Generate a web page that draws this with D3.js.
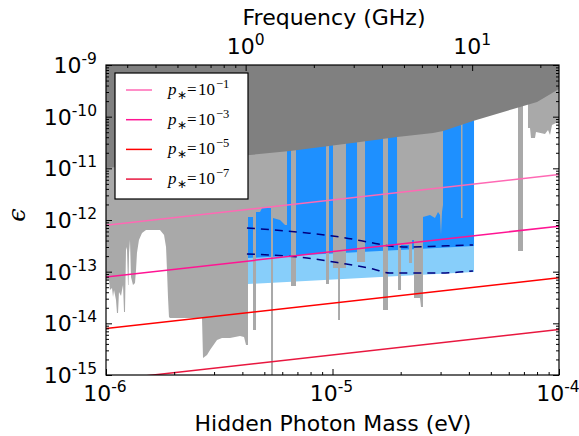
<!DOCTYPE html>
<html>
<head>
<meta charset="utf-8">
<script src="https://cdn.jsdelivr.net/npm/d3@7"></script>
<style>
  body { margin: 0; background: #fff; }
  text { font-family: "DejaVu Sans", sans-serif; fill: #000; }
</style>
</head>
<body>
<svg id="chart" width="579" height="436"></svg>
<script>
// ---- data (mass in eV, epsilon dimensionless) ----
const EV_TO_GHZ = 241798.9;

// upper dark region boundary
const boundMass = [1e-6, 4.32e-6, 6.49e-6, 1.322e-5, 1.927e-5, 2.78e-5, 3.08e-5, 4.17e-5, 6.73e-5, 8.0e-5, 1e-4];
const boundEps  = [1.02e-11, 1.81e-11, 2.17e-11, 3.23e-11, 4.04e-11, 4.83e-11, 5.28e-11, 8.24e-11, 1.54e-10, 1.92e-10, 3.43e-10];

// lower edge of existing exclusion (1e-9 = nothing excluded)
const limitMass = [
  1.000e-6, 1.031e-6, 1.041e-6, 1.063e-6, 1.074e-6, 1.085e-6, 1.107e-6, 1.118e-6, 1.130e-6, 1.141e-6,
  1.165e-6, 1.177e-6, 1.189e-6, 1.201e-6, 1.213e-6, 1.226e-6, 1.238e-6, 1.251e-6, 1.257e-6, 1.264e-6,
  1.276e-6, 1.289e-6, 1.316e-6, 1.343e-6, 1.357e-6, 1.370e-6, 1.398e-6, 1.442e-6, 1.502e-6, 1.731e-6,
  1.804e-6, 1.841e-6, 1.859e-6, 1.878e-6, 1.897e-6, 1.917e-6, 2.654e-6, 2.681e-6, 2.792e-6, 2.879e-6,
  3.091e-6, 3.252e-6, 3.528e-6, 3.905e-6, 4.068e-6, 4.151e-6, 4.236e-6,
  4.236e-6, 4.457e-6, 4.457e-6, 4.595e-6, 4.595e-6, 4.786e-6, 4.884e-6, 5.298e-6, 5.352e-6, 5.352e-6,
  5.462e-6, 5.462e-6, 5.865e-6, 6.171e-6, 6.297e-6, 6.297e-6, 6.558e-6, 6.558e-6, 6.900e-6, 6.900e-6,
  9.362e-6, 9.362e-6, 9.650e-6, 9.650e-6, 1.005e-5, 1.005e-5, 1.058e-5, 1.058e-5, 1.079e-5, 1.079e-5, 1.147e-5, 1.147e-5,
  1.283e-5, 1.283e-5, 1.392e-5, 1.392e-5, 1.671e-5, 1.671e-5, 1.758e-5, 1.758e-5,
  1.927e-5, 1.927e-5, 1.947e-5, 1.947e-5, 2.007e-5, 2.007e-5, 2.176e-5, 2.176e-5,
  2.244e-5, 2.244e-5, 2.290e-5, 2.290e-5, 2.434e-5, 2.459e-5, 2.509e-5, 2.509e-5,
  2.695e-5, 2.835e-5, 2.923e-5, 2.983e-5, 3.013e-5, 3.044e-5, 3.075e-5, 3.075e-5,
  3.693e-5, 3.693e-5, 3.750e-5, 3.750e-5,
  6.592e-5, 6.592e-5, 6.935e-5, 6.935e-5, 7.296e-5, 7.296e-5, 7.447e-5, 7.522e-5,
  7.834e-5, 7.914e-5, 8.674e-5, 8.943e-5, 9.127e-5, 9.314e-5, 9.700e-5, 1.000e-4
];
const limitEps = [
  6.90e-14, 6.90e-14, 4.42e-14, 4.83e-14, 3.24e-14, 4.42e-14, 2.83e-14, 1.59e-14, 1.59e-14, 4.04e-14,
  3.38e-14, 4.42e-14, 5.52e-14, 1.66e-14, 1.66e-14, 3.00e-13, 2.63e-13, 5.52e-14, 5.52e-14, 2.30e-13,
  4.10e-13, 7.89e-14, 5.52e-14, 6.04e-14, 1.08e-13, 2.30e-13, 4.10e-13, 5.61e-13, 6.41e-13, 6.41e-13,
  5.13e-13, 3.00e-13, 1.08e-13, 3.24e-14, 1.33e-14, 1.27e-14, 1.27e-14, 2.13e-15, 2.44e-15, 3.05e-15,
  4.76e-15, 5.21e-15, 5.21e-15, 5.69e-15, 5.44e-15, 3.81e-15, 3.81e-15,
  1.14e-12, 1.14e-12, 7.43e-15, 7.43e-15, 1.43e-12, 1.43e-12, 1.71e-12, 1.71e-12, 1.71e-12, 1e-15,
  1e-15, 1.09e-12, 1.00e-12, 8.01e-13, 8.01e-13, 1e-9, 1e-9, 5.28e-14, 5.28e-14, 1e-9,
  1e-9, 5.78e-14, 5.78e-14, 1e-9, 1e-9, 1.18e-13, 1.18e-13, 1.16e-14, 1.16e-14, 1.18e-13, 1.18e-13, 1e-9,
  1e-9, 1.54e-13, 1.54e-13, 1e-9, 1e-9, 1.81e-14, 1.81e-14, 1e-9,
  1e-9, 3.28e-13, 3.28e-13, 4.42e-14, 4.42e-14, 3.28e-13, 3.28e-13, 1.47e-13,
  1.47e-13, 4.10e-13, 4.10e-13, 3.09e-14, 3.09e-14, 2.07e-14, 2.07e-14, 1.14e-12,
  1.25e-12, 1.09e-12, 1.43e-12, 1.25e-12, 5.13e-13, 1.43e-12, 1.95e-12, 1e-9,
  1e-9, 1.09e-12, 1.09e-12, 1e-9,
  1e-9, 2.51e-13, 2.51e-13, 1e-9, 1e-9, 6.04e-11, 6.04e-11, 3.87e-11,
  3.87e-11, 5.05e-11, 4.62e-11, 5.52e-11, 4.42e-11, 6.90e-11, 7.54e-11, 7.54e-11
];

// projected reach, 1-10 GHz
const bandMass    = [4.236e-6, 4.215e-5];
const bandDeepEps = [1.84e-13, 3.14e-13];
const bandWideEps = [5.78e-14, 9.86e-14];

const dashMass     = [4.19e-6, 7.72e-6, 1.08e-5, 1.51e-5, 1.79e-5, 2.13e-5, 2.99e-5, 4.17e-5];
const dashUpperEps = [7.00e-13, 5.61e-13, 4.69e-13, 3.59e-13, 3.14e-13, 3.00e-13, 3.14e-13, 3.28e-13];
const dashLowerEps = [2.20e-13, 1.84e-13, 1.47e-13, 1.13e-13, 9.42e-14, 9.42e-14, 9.42e-14, 1.03e-13];

// p* lines
const pStarExp    = ['\u22121', '\u22123', '\u22125', '\u22127'];
const pStarColors = ['#ff69b4', '#ff1493', '#ff0000', '#e8173f'];
const lineMass    = [1e-6, 1e-4];
const lineEpsLow  = [7.9e-13, 7.9e-14, 7.9e-15, 7.9e-16];
const lineEpsHigh = [7.6e-12, 7.6e-13, 7.6e-14, 7.6e-15];

// ticks
const massDecades = [-6, -5, -4];
const epsDecades  = [-15, -14, -13, -12, -11, -10, -9];
const freqDecades = [0, 1];

// ---- chart ----
const L = 106, R = 559, T = 65, B = 375;
const svg = d3.select('#chart');

const x  = d3.scaleLog().domain([1e-6, 1e-4]).range([L, R]);
const y  = d3.scaleLog().domain([1e-15, 1e-9]).range([B, T]);
const xf = d3.scaleLog().domain([1e-6 * EV_TO_GHZ, 1e-4 * EV_TO_GHZ]).range([L, R]);

svg.append('clipPath').attr('id', 'plot').append('rect')
  .attr('x', L).attr('y', T).attr('width', R - L).attr('height', B - T);

const g = svg.append('g').attr('clip-path', 'url(#plot)');
const yTop = y(1e-9);

// blue bands
const band = (eps) => d3.area()
  .x((d, i) => x(bandMass[i])).y0(yTop).y1((d, i) => y(eps[i]));
g.append('path').datum(bandMass).attr('d', band(bandWideEps)).attr('fill', '#87cefa');
g.append('path').datum(bandMass).attr('d', band(bandDeepEps)).attr('fill', '#1e90ff');

// existing limits
g.append('path').datum(limitMass)
  .attr('d', d3.area().x((d) => x(d)).y0(yTop).y1((d, i) => y(limitEps[i])))
  .attr('fill', '#a9a9a9');

g.append('path').datum(boundMass)
  .attr('d', d3.area().x((d) => x(d)).y0(yTop).y1((d, i) => y(boundEps[i])))
  .attr('fill', '#808080');

// dashed curves
[dashUpperEps, dashLowerEps].forEach(eps => {
  g.append('path').datum(dashMass)
    .attr('d', d3.line().x(d => x(d)).y((d, i) => y(eps[i])).curve(d3.curveMonotoneX))
    .attr('fill', 'none').attr('stroke', '#000080').attr('stroke-width', 1.5)
    .attr('stroke-dasharray', '8,6');
});

// p* lines
pStarColors.forEach((c, k) => {
  g.append('path').datum(lineMass)
    .attr('d', d3.line().x(d => x(d)).y((d, i) => y(i ? lineEpsHigh[k] : lineEpsLow[k])))
    .attr('fill', 'none').attr('stroke', c).attr('stroke-width', 1.5);
});

// axes (ticks inward)
const minors = (decs) => decs.slice(0, -1).flatMap(e => d3.range(2, 10).map(k => k * Math.pow(10, e)));
const massMin = minors(massDecades);
const epsMin  = minors(epsDecades);
const freqMin = [0.3, 0.4, 0.5, 0.6, 0.7, 0.8, 0.9, 2, 3, 4, 5, 6, 7, 8, 9, 20];

function ticks(axisFn, scale, vals, size, tr) {
  const a = axisFn(scale).tickValues(vals).tickSize(-size).tickFormat(() => '');
  const s = svg.append('g').attr('transform', tr).call(a);
  s.select('.domain').remove();
  s.selectAll('line').attr('stroke', '#000').attr('stroke-width', 1);
}
const pw = (e) => Math.pow(10, e);
ticks(d3.axisBottom, x, massDecades.map(pw), 6, `translate(0,${B})`);
ticks(d3.axisBottom, x, massMin, 3, `translate(0,${B})`);
ticks(d3.axisTop, xf, freqDecades.map(pw), 6, `translate(0,${T})`);
ticks(d3.axisTop, xf, freqMin, 3, `translate(0,${T})`);
ticks(d3.axisLeft, y, epsDecades.map(pw), 6, `translate(${L},0)`);
ticks(d3.axisLeft, y, epsMin, 3, `translate(${L},0)`);
ticks(d3.axisRight, y, epsDecades.map(pw), 6, `translate(${R},0)`);
ticks(d3.axisRight, y, epsMin, 3, `translate(${R},0)`);

svg.append('rect').attr('x', L).attr('y', T).attr('width', R - L).attr('height', B - T)
  .attr('fill', 'none').attr('stroke', '#000').attr('stroke-width', 1.2);

// tick labels like 10^-6
function sci(xp, yp, exp, anchor) {
  const t = svg.append('text').attr('x', xp).attr('y', yp)
    .attr('text-anchor', anchor).attr('font-size', 22);
  t.append('tspan').text('10');
  t.append('tspan').attr('dy', -9).attr('font-size', 15.5).text(exp);
}
massDecades.forEach(e => sci(x(pw(e)) - 1, 401, String(e), 'middle'));
freqDecades.forEach(e => sci(xf(pw(e)), 54, String(e), 'middle'));
epsDecades.forEach(e => sci(97, y(pw(e)) + 8, String(e), 'end'));

svg.append('text').attr('x', 333).attr('y', 431).attr('text-anchor', 'middle')
  .attr('font-size', 22).text('Hidden Photon Mass (eV)');
svg.append('text').attr('x', 334).attr('y', 25).attr('text-anchor', 'middle')
  .attr('font-size', 22).text('Frequency (GHz)');
svg.append('text').attr('transform', 'translate(25,215) rotate(-90)')
  .attr('text-anchor', 'middle').attr('font-size', 24)
  .style('font-family', '"DejaVu Serif", serif').style('font-style', 'italic').text('\u03f5');

// legend
const lg = svg.append('g');
lg.append('rect').attr('x', 115).attr('y', 73).attr('width', 133).attr('height', 126)
  .attr('fill', '#fff').attr('stroke', '#000').attr('stroke-width', 1.2);
pStarColors.forEach((c, k) => {
  const ly = 90 + k * 29.7;
  lg.append('line').attr('x1', 126).attr('x2', 152).attr('y1', ly).attr('y2', ly)
    .attr('stroke', c).attr('stroke-width', 1.5);
  const t = lg.append('text').attr('y', ly + 5).attr('font-size', 17)
    .style('font-family', '"Liberation Serif", serif');
  t.append('tspan').attr('x', 168).style('font-style', 'italic').text('p');
  t.append('tspan').attr('x', 177).attr('dy', 4).attr('font-size', 12).text('\u2217');
  t.append('tspan').attr('x', 187).attr('dy', -4).text('=');
  t.append('tspan').attr('x', 198).text('10');
  t.append('tspan').attr('x', 216).attr('dy', -7).attr('font-size', 12.5).text(pStarExp[k]);
});
</script>
</body>
</html>
